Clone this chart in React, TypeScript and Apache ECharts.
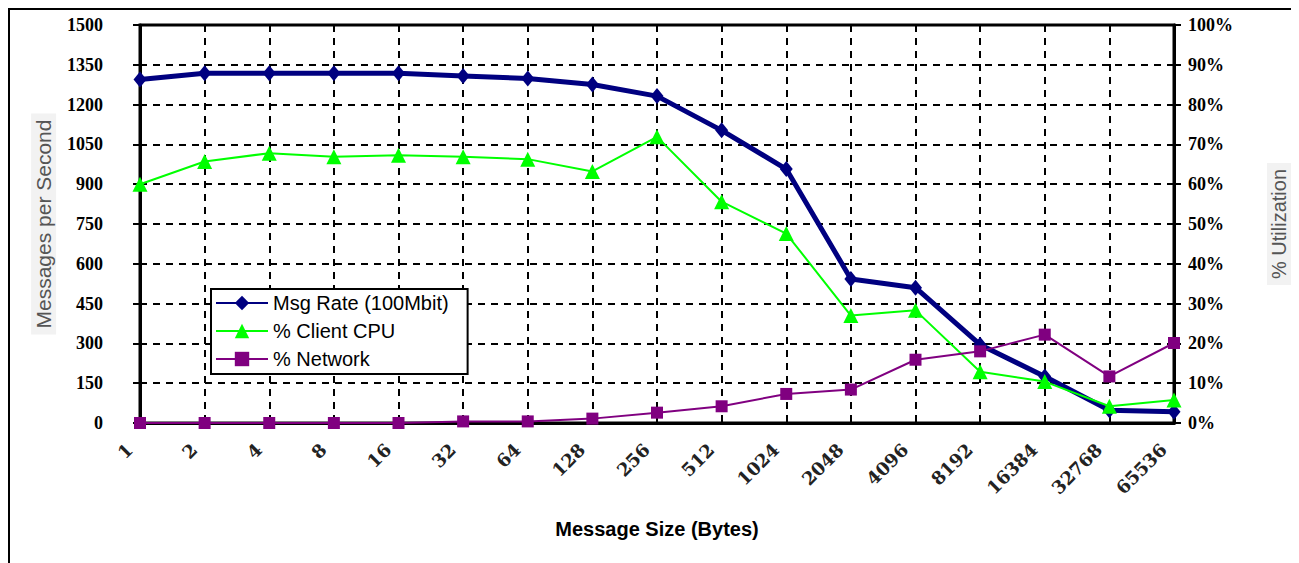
import React, { useEffect, useRef } from 'react';
import * as echarts from 'echarts';

const categories = ['1', '2', '4', '8', '16', '32', '64', '128', '256', '512', '1024', '2048', '4096', '8192', '16384', '32768', '65536'];
const msgRate = [1295, 1318, 1318, 1318, 1318, 1308, 1298, 1276, 1232, 1103, 957, 543, 510, 295, 175, 48, 42];
const clientCpu = [60, 65.7, 67.8, 66.9, 67.3, 66.9, 66.3, 63.2, 71.9, 55.6, 47.6, 27.0, 28.3, 12.9, 10.4, 4.2, 5.8];
const network = [0, 0, 0, 0, 0, 0.4, 0.4, 1.1, 2.6, 4.2, 7.3, 8.4, 15.9, 18.0, 22.2, 11.7, 20.1];

const seriesNames = ['Msg Rate (100Mbit)', '% Client CPU', '% Network'];

export default function App() {
  const ref = useRef<HTMLDivElement>(null);
  useEffect(() => {
    const chart = echarts.init(ref.current!, null, { renderer: 'svg' });
    const dashed = { color: '#000', width: 2, type: [7, 6] as any };
    chart.setOption({
      animation: false,
      backgroundColor: '#fff',
      grid: { left: 130, right: 119, top: 15, bottom: 140, show: true, borderColor: '#000', borderWidth: 3, backgroundColor: 'transparent' },
      legend: {
        orient: 'vertical',
        left: 201,
        top: 279,
        itemWidth: 52,
        itemHeight: 18,
        itemGap: 8,
        padding: [4, 19, 5, 4],
        borderColor: '#000',
        borderWidth: 2,
        backgroundColor: '#fff',
        textStyle: { fontFamily: 'Liberation Sans', fontSize: 20, color: '#000' },
        data: seriesNames,
      },
      xAxis: {
        type: 'category',
        data: categories,
        boundaryGap: false,
        axisLine: { lineStyle: { color: '#000', width: 3 } },
        axisTick: { show: false },
        splitLine: { show: true, interval: 0, lineStyle: dashed },
        axisLabel: {
          interval: 0,
          rotate: 45,
          fontFamily: 'DejaVu Serif',
          fontWeight: 'bold',
          fontSize: 18,
          color: '#222',
          margin: 13,
          padding: [0, 15, 0, 0],
        },
        name: 'Message Size (Bytes)',
        nameLocation: 'middle',
        nameGap: 96,
        nameTextStyle: { fontFamily: 'Liberation Sans', fontWeight: 'bold', fontSize: 20, color: '#000' },
      },
      yAxis: [
        {
          type: 'value',
          position: 'left',
          min: 0,
          max: 1500,
          interval: 150,
          axisLine: { show: true, lineStyle: { color: '#000', width: 3 } },
          axisTick: { show: true, length: 7, lineStyle: { color: '#000', width: 2 } },
          axisLabel: { formatter: (v: number) => String(v), fontFamily: 'Liberation Serif', fontWeight: 'bold', fontSize: 18, color: '#000', margin: 37 },
          splitLine: { show: true, lineStyle: dashed },
          name: 'Messages per Second',
          nameLocation: 'middle',
          nameGap: 82,
          nameTextStyle: { fontFamily: 'Liberation Sans', fontSize: 21, color: '#555', backgroundColor: '#f2f2f2', padding: [2, 6] },
        },
        {
          type: 'value',
          position: 'right',
          min: 0,
          max: 100,
          interval: 10,
          axisLine: { show: true, lineStyle: { color: '#000', width: 3 } },
          axisTick: { show: true, length: 7, lineStyle: { color: '#000', width: 2 } },
          axisLabel: { formatter: '{value}%', fontFamily: 'Liberation Serif', fontWeight: 'bold', fontSize: 18, color: '#000', margin: 14 },
          splitLine: { show: false },
          name: '% Utilization',
          nameLocation: 'middle',
          nameGap: 93,
          nameTextStyle: { fontFamily: 'Liberation Sans', fontSize: 20, color: '#555', backgroundColor: '#f2f2f2', padding: [2, 6] },
        },
      ],
      series: [
        {
          name: seriesNames[0],
          type: 'line',
          yAxisIndex: 0,
          data: msgRate,
          symbol: 'diamond',
          symbolSize: [13, 16],
          lineStyle: { color: '#000080', width: 5 },
          itemStyle: { color: '#000080' },
        },
        {
          name: seriesNames[1],
          type: 'line',
          yAxisIndex: 1,
          data: clientCpu,
          symbol: 'triangle',
          symbolSize: 15,
          lineStyle: { color: '#00ff00', width: 2 },
          itemStyle: { color: '#00ff00' },
        },
        {
          name: seriesNames[2],
          type: 'line',
          yAxisIndex: 1,
          data: network,
          symbol: 'rect',
          symbolSize: 12,
          lineStyle: { color: '#800080', width: 2 },
          itemStyle: { color: '#800080' },
        },
      ],
    });
    return () => chart.dispose();
  }, []);
  return (
    <div
      style={{
        width: 1291,
        height: 555,
        borderTop: '2px solid #000',
        borderLeft: '2px solid #000',
        boxSizing: 'border-box',
        position: 'relative',
        background: '#fff',
      }}
    >
      <div ref={ref} style={{ position: 'absolute', left: 0, top: 0, width: 1289, height: 553 }} />
    </div>
  );
}
